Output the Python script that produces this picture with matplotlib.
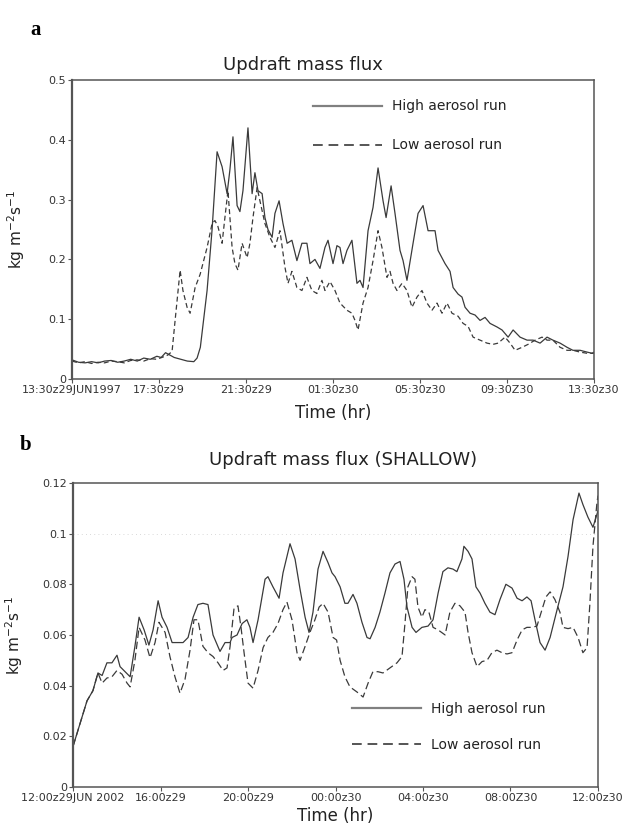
#!/usr/bin/env python3
"""Updraft mass flux, high vs low aerosol runs (two panels)."""

import matplotlib
matplotlib.use("Agg")
import matplotlib.pyplot as plt
from matplotlib.lines import Line2D

LINE = "#3a3a3a"
LEGEND_LINE = "#808080"
SPINE = "#555555"
NARROW = ["Liberation Sans Narrow", "DejaVu Sans"]

# panel a: hours since 13:30z29JUN1997, flux in kg m-2 s-1
HIGH_A_HOURS = [
    0.0, 0.3, 0.6, 0.9, 1.2, 1.5, 1.8, 2.1, 2.4, 2.7, 3.0, 3.3, 3.6, 3.9,
    4.1, 4.3, 4.5, 4.7, 5.0, 5.3, 5.6, 5.75, 5.9, 6.21, 6.44, 6.67, 6.90,
    7.13, 7.26, 7.40, 7.59, 7.72, 7.86, 8.09, 8.28, 8.41, 8.55, 8.74, 8.87,
    9.01, 9.20, 9.33, 9.52, 9.70, 9.89, 10.11, 10.34, 10.57, 10.80, 10.94,
    11.17, 11.40, 11.63, 11.77, 12.00, 12.18, 12.32, 12.46, 12.64, 12.87,
    13.10, 13.24, 13.38, 13.61, 13.84, 14.07, 14.30, 14.44, 14.67, 14.85,
    15.08, 15.22, 15.40, 15.68, 15.91, 16.14, 16.37, 16.69, 16.83, 17.15,
    17.38, 17.52, 17.75, 17.93, 18.07, 18.30, 18.53, 18.76, 18.99, 19.22,
    19.54, 19.77, 20.05, 20.28, 20.60, 20.92, 21.20, 21.52, 21.84, 22.11,
    22.44, 22.76, 23.03, 23.36, 23.68, 23.91, 24.0,
]
HIGH_A_FLUX = [
    0.032, 0.028, 0.027, 0.029, 0.027, 0.030, 0.031, 0.028, 0.030, 0.033,
    0.030, 0.035, 0.033, 0.038, 0.036, 0.044, 0.040, 0.036, 0.033, 0.030,
    0.029, 0.035, 0.053, 0.148, 0.250, 0.380, 0.355, 0.310, 0.350, 0.405,
    0.290, 0.280, 0.315, 0.420, 0.310, 0.345, 0.315, 0.310, 0.270, 0.250,
    0.237, 0.277, 0.298, 0.260, 0.227, 0.232, 0.198, 0.227, 0.227, 0.193,
    0.200, 0.185, 0.220, 0.232, 0.193, 0.223, 0.220, 0.193, 0.215, 0.232,
    0.160, 0.165, 0.153, 0.248, 0.287, 0.353, 0.298, 0.270, 0.323, 0.277,
    0.215, 0.198, 0.165, 0.227, 0.277, 0.290, 0.248, 0.248, 0.215, 0.193,
    0.180, 0.153, 0.142, 0.137, 0.120, 0.110, 0.107, 0.098, 0.103, 0.093,
    0.087, 0.082, 0.070, 0.082, 0.070, 0.065, 0.065, 0.060, 0.070, 0.065,
    0.060, 0.053, 0.048, 0.048, 0.045, 0.043, 0.045,
]
LOW_A_HOURS = [
    0.0, 0.3, 0.6, 0.9, 1.2, 1.5, 1.8, 2.1, 2.4, 2.7, 3.0, 3.3, 3.6, 3.9,
    4.2, 4.4, 4.6, 4.74, 4.97, 5.10, 5.29, 5.43, 5.66, 5.89, 6.21, 6.44,
    6.57, 6.71, 6.90, 7.03, 7.17, 7.36, 7.49, 7.63, 7.82, 8.05, 8.18, 8.32,
    8.51, 8.64, 8.87, 9.10, 9.33, 9.56, 9.79, 9.93, 10.11, 10.34, 10.57,
    10.80, 11.03, 11.26, 11.49, 11.63, 11.86, 12.09, 12.32, 12.64, 12.87,
    13.01, 13.15, 13.38, 13.61, 13.84, 14.07, 14.25, 14.48, 14.62, 14.76,
    14.94, 15.17, 15.40, 15.63, 15.86, 16.09, 16.32, 16.55, 16.78, 17.01,
    17.24, 17.47, 17.75, 17.98, 18.21, 18.44, 18.76, 19.08, 19.36, 19.59,
    19.91, 20.14, 20.37, 20.69, 20.97, 21.29, 21.61, 21.84, 22.11, 22.44,
    22.76, 23.03, 23.36, 23.68, 24.0,
]
LOW_A_FLUX = [
    0.030, 0.027, 0.029, 0.026, 0.028, 0.027, 0.030, 0.029, 0.027, 0.031,
    0.032, 0.030, 0.034, 0.033, 0.037, 0.040, 0.046, 0.098, 0.182, 0.148,
    0.120, 0.110, 0.153, 0.175, 0.220, 0.260, 0.265, 0.255, 0.227, 0.270,
    0.315, 0.220, 0.193, 0.182, 0.227, 0.203, 0.227, 0.270, 0.320, 0.298,
    0.260, 0.237, 0.220, 0.248, 0.187, 0.160, 0.180, 0.153, 0.148, 0.170,
    0.148, 0.143, 0.165, 0.148, 0.163, 0.148, 0.127, 0.115, 0.110, 0.098,
    0.082, 0.127, 0.153, 0.198, 0.248, 0.220, 0.170, 0.180, 0.160, 0.148,
    0.160, 0.148, 0.120, 0.137, 0.148, 0.127, 0.115, 0.127, 0.110, 0.127,
    0.110, 0.105, 0.093, 0.088, 0.070, 0.065, 0.060, 0.058, 0.060, 0.070,
    0.060, 0.048, 0.053, 0.058, 0.065, 0.070, 0.065, 0.065, 0.053, 0.048,
    0.048, 0.045, 0.043, 0.043,
]
TICKS_A = [0, 4, 8, 12, 16, 20, 24]
TICK_LABELS_A = [
    "13:30z29JUN1997", "17:30z29", "21:30z29", "01:30z30", "05:30z30",
    "09:30Z30", "13:30z30",
]

# panel b: hours since 12:00z29JUN2002
HIGH_B_HOURS = [
    0.0, 0.32, 0.64, 0.91, 1.14, 1.33, 1.55, 1.78, 2.01, 2.15, 2.38, 2.61,
    2.83, 3.02, 3.25, 3.47, 3.66, 3.89, 4.07, 4.30, 4.53, 4.75, 5.03, 5.26,
    5.49, 5.71, 5.94, 6.17, 6.40, 6.72, 6.95, 7.18, 7.27, 7.50, 7.73, 7.95,
    8.09, 8.23, 8.46, 8.78, 8.91, 9.14, 9.42, 9.60, 9.92, 10.15, 10.38,
    10.61, 10.79, 10.97, 11.20, 11.43, 11.66, 11.84, 11.98, 12.21, 12.43,
    12.57, 12.80, 12.98, 13.21, 13.44, 13.58, 13.81, 14.03, 14.26, 14.49,
    14.72, 14.95, 15.13, 15.27, 15.50, 15.68, 15.95, 16.23, 16.46, 16.69,
    16.91, 17.14, 17.37, 17.55, 17.78, 17.87, 18.06, 18.24, 18.42, 18.61,
    18.83, 19.06, 19.29, 19.52, 19.79, 20.07, 20.30, 20.53, 20.75, 20.94,
    21.12, 21.35, 21.58, 21.81, 22.13, 22.40, 22.63, 22.86, 23.13, 23.31,
    23.54, 23.77, 24.0,
]
HIGH_B_FLUX = [
    0.016, 0.025, 0.034, 0.038, 0.045, 0.044, 0.049, 0.049, 0.052, 0.0475,
    0.0455, 0.0435, 0.0555, 0.067, 0.062, 0.056, 0.062, 0.0735, 0.067,
    0.063, 0.057, 0.057, 0.057, 0.059, 0.067, 0.072, 0.0725, 0.072, 0.060,
    0.0535, 0.057, 0.057, 0.059, 0.060, 0.0645, 0.066, 0.063, 0.057, 0.066,
    0.082, 0.083, 0.079, 0.0745, 0.0845, 0.096, 0.090, 0.078, 0.067, 0.061,
    0.069, 0.086, 0.093, 0.0885, 0.0845, 0.083, 0.079, 0.0725, 0.0725,
    0.076, 0.0725, 0.065, 0.059, 0.0585, 0.063, 0.069, 0.0765, 0.0845,
    0.088, 0.089, 0.082, 0.071, 0.063, 0.061, 0.063, 0.0635, 0.066, 0.0765,
    0.085, 0.0865, 0.086, 0.085, 0.090, 0.095, 0.093, 0.090, 0.079, 0.0765,
    0.0725, 0.069, 0.068, 0.074, 0.080, 0.0785, 0.0745, 0.0735, 0.075,
    0.0735, 0.066, 0.057, 0.054, 0.059, 0.070, 0.079, 0.091, 0.1055, 0.116,
    0.1115, 0.1065, 0.1025, 0.109,
]
LOW_B_HOURS = [
    0.0, 0.32, 0.64, 0.91, 1.14, 1.33, 1.55, 1.78, 2.01, 2.24, 2.47, 2.61,
    2.83, 3.02, 3.29, 3.52, 3.75, 3.93, 4.21, 4.43, 4.66, 4.89, 5.12, 5.35,
    5.53, 5.71, 5.94, 6.17, 6.40, 6.63, 6.86, 7.04, 7.18, 7.36, 7.54, 7.68,
    7.82, 8.00, 8.23, 8.46, 8.69, 8.91, 9.14, 9.37, 9.60, 9.78, 10.01,
    10.24, 10.38, 10.61, 10.83, 11.06, 11.25, 11.43, 11.66, 11.89, 12.05,
    12.21, 12.43, 12.66, 12.98, 13.26, 13.49, 13.71, 13.94, 14.17, 14.49,
    14.81, 15.04, 15.18, 15.31, 15.50, 15.63, 15.77, 15.95, 16.09, 16.27,
    16.46, 16.69, 17.01, 17.23, 17.46, 17.69, 17.92, 18.06, 18.24, 18.47,
    18.70, 18.93, 19.15, 19.38, 19.61, 19.84, 20.07, 20.30, 20.53, 20.75,
    20.98, 21.21, 21.44, 21.62, 21.81, 22.03, 22.26, 22.40, 22.63, 22.86,
    23.09, 23.31, 23.50, 23.63, 23.77, 23.95, 24.0,
]
LOW_B_FLUX = [
    0.016, 0.025, 0.034, 0.038, 0.045, 0.041, 0.043, 0.0435, 0.046, 0.0445,
    0.041, 0.0395, 0.050, 0.063, 0.058, 0.051, 0.057, 0.065, 0.061, 0.0515,
    0.0435, 0.037, 0.0425, 0.054, 0.066, 0.066, 0.0555, 0.053, 0.0515,
    0.049, 0.046, 0.047, 0.0555, 0.0705, 0.0715, 0.063, 0.053, 0.041, 0.039,
    0.046, 0.055, 0.059, 0.061, 0.0645, 0.070, 0.073, 0.066, 0.053, 0.050,
    0.0555, 0.061, 0.066, 0.071, 0.0725, 0.069, 0.059, 0.058, 0.050, 0.0435,
    0.0395, 0.0375, 0.0355, 0.041, 0.0455, 0.0455, 0.045, 0.047, 0.049,
    0.0515, 0.065, 0.079, 0.083, 0.082, 0.071, 0.067, 0.070, 0.069, 0.063,
    0.062, 0.060, 0.069, 0.0725, 0.0715, 0.069, 0.061, 0.053, 0.0475,
    0.0495, 0.050, 0.053, 0.054, 0.053, 0.0525, 0.053, 0.058, 0.062, 0.063,
    0.063, 0.0635, 0.070, 0.075, 0.077, 0.074, 0.069, 0.063, 0.0625, 0.063,
    0.059, 0.053, 0.055, 0.0725, 0.095, 0.112, 0.115,
]
TICKS_B = [0, 4, 8, 12, 16, 20, 24]
TICK_LABELS_B = [
    "12:00z29JUN 2002", "16:00z29", "20:00z29", "00:00z30", "04:00z30",
    "08:00Z30", "12:00z30",
]


def style_axes(ax, xticks, xlabels, yticks, ylabels, ymax):
    ax.set_xlim(0, 24)
    ax.set_ylim(0, ymax)
    ax.set_xticks(xticks, xlabels)
    ax.set_yticks(yticks, ylabels)
    ax.tick_params(
        labelsize=8, length=3, width=0.8, color=SPINE,
        labelcolor="#333333", pad=1.5,
    )
    for spine in ax.spines.values():
        spine.set_color(SPINE)
        spine.set_linewidth(1.1)
    ax.spines["left"].set_linewidth(1.6)
    ax.set_ylabel("kg m$^{-2}$s$^{-1}$", fontsize=11, color="#222222")
    ax.set_xlabel("Time (hr)", fontsize=12, family=NARROW, color="#222222")


def add_legend(ax, anchor, spacing, dash):
    handles = [
        Line2D([], [], color=LEGEND_LINE, linewidth=1.6),
        Line2D([], [], color="#555555", linewidth=1.4, dashes=dash),
    ]
    ax.legend(
        handles,
        ["High aerosol run", "Low aerosol run"],
        loc="upper left",
        bbox_to_anchor=anchor,
        frameon=False,
        fontsize=10,
        handlelength=5.0,
        handletextpad=0.7,
        labelspacing=spacing,
        borderpad=0,
        borderaxespad=0,
        labelcolor="#222222",
    )


def main() -> None:
    fig = plt.figure(figsize=(6.3, 8.25), dpi=100)
    ax_a = fig.add_axes([0.1143, 0.5406, 0.8286, 0.3624])
    ax_b = fig.add_axes([0.1159, 0.0461, 0.8333, 0.3685])

    ax_a.plot(HIGH_A_HOURS, HIGH_A_FLUX, color=LINE, linewidth=0.9)
    ax_a.plot(LOW_A_HOURS, LOW_A_FLUX, color=LINE, linewidth=0.9,
              dashes=(4, 2.5))
    style_axes(
        ax_a, TICKS_A, TICK_LABELS_A,
        [0, 0.1, 0.2, 0.3, 0.4, 0.5], ["0", "0.1", "0.2", "0.3", "0.4", "0.5"],
        0.5,
    )
    ax_a.yaxis.set_label_coords(-0.086, 0.5)
    ax_a.xaxis.set_label_coords(0.5, -0.085)
    add_legend(ax_a, (0.4617, 0.935), 1.8, (5, 3))

    ax_b.axhline(0.1, color="#cccccc", linewidth=0.6, linestyle=(0, (1, 4)))
    ax_b.plot(HIGH_B_HOURS, HIGH_B_FLUX, color=LINE, linewidth=0.9)
    ax_b.plot(LOW_B_HOURS, LOW_B_FLUX, color=LINE, linewidth=0.9,
              dashes=(6, 3))
    style_axes(
        ax_b, TICKS_B, TICK_LABELS_B,
        [0, 0.02, 0.04, 0.06, 0.08, 0.1, 0.12],
        ["0", "0.02", "0.04", "0.06", "0.08", "0.1", "0.12"],
        0.12,
    )
    ax_b.yaxis.set_label_coords(-0.091, 0.5)
    ax_b.xaxis.set_label_coords(0.5, -0.065)
    add_legend(ax_b, (0.531, 0.28), 1.6, (5, 3))

    fig.text(0.481, 0.921, "Updraft mass flux", fontsize=13, family=NARROW,
             ha="center", va="center", color="#222222")
    fig.text(0.545, 0.442, "Updraft mass flux (SHALLOW)", fontsize=13,
             family=NARROW, ha="center", va="center", color="#222222")
    fig.text(0.057, 0.964, "a", fontsize=15, fontweight="bold",
             family=["Liberation Serif", "DejaVu Serif"], ha="center",
             va="center")
    fig.text(0.040, 0.461, "b", fontsize=15, fontweight="bold",
             family=["Liberation Serif", "DejaVu Serif"], ha="center",
             va="center")

    fig.savefig("out.png", dpi=100)
    plt.close(fig)


if __name__ == "__main__":
    main()
